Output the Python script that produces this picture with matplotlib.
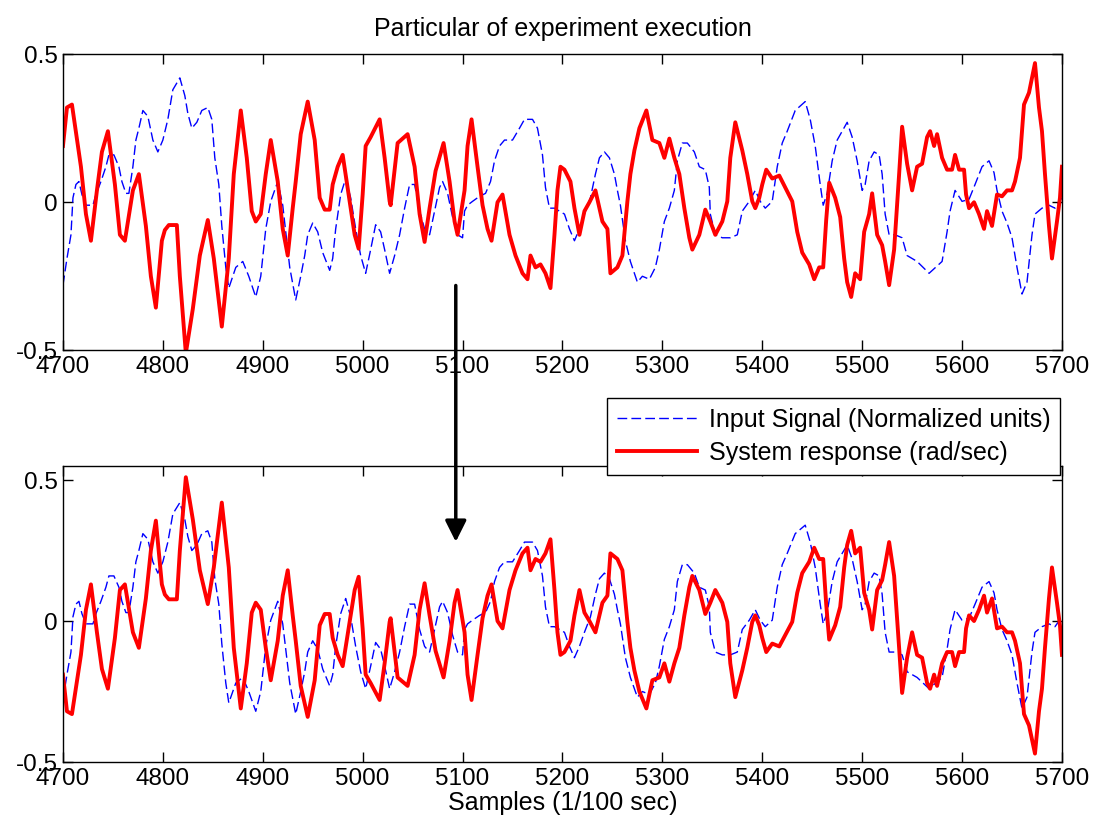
import numpy as np
import matplotlib
matplotlib.use("Agg")
import matplotlib.pyplot as plt

plt.rcParams['font.family'] = ['Liberation Sans', 'DejaVu Sans']

# system response (top panel)
resp_x = [4700, 4704, 4709, 4718, 4723, 4728, 4734, 4739, 4745, 4752, 4757, 4762, 4770, 4776,
          4783, 4788, 4793, 4799, 4802, 4806, 4814, 4817, 4823, 4830, 4837, 4845, 4851, 4859,
          4866, 4871, 4878, 4884, 4889, 4893, 4898, 4903, 4908, 4915, 4920, 4925, 4930, 4933,
          4938, 4945, 4952, 4957, 4962, 4967, 4970, 4975, 4980, 4987, 4992, 4996, 5000, 5003,
          5008, 5017, 5022, 5027, 5028, 5035, 5045, 5052, 5057, 5062, 5067, 5073, 5081, 5087,
          5092, 5095, 5102, 5105, 5109, 5115, 5120, 5125, 5129, 5135, 5140, 5147, 5153, 5160,
          5165, 5168, 5173, 5178, 5183, 5188, 5192, 5195, 5198, 5202, 5208, 5212, 5217, 5222,
          5227, 5233, 5240, 5245, 5248, 5255, 5260, 5265, 5268, 5272, 5277, 5284, 5290, 5297,
          5302, 5307, 5312, 5317, 5322, 5327, 5330, 5337, 5343, 5348, 5353, 5360, 5365, 5368,
          5373, 5380, 5385, 5390, 5393, 5397, 5400, 5404, 5410, 5417, 5423, 5430, 5435, 5440,
          5447, 5452, 5457, 5461, 5464, 5467, 5473, 5478, 5482, 5485, 5489, 5493, 5498, 5502,
          5507, 5510, 5515, 5520, 5523, 5527, 5532, 5537, 5540, 5545, 5550, 5555, 5560, 5565,
          5568, 5572, 5575, 5580, 5585, 5590, 5593, 5597, 5602, 5604, 5607, 5612, 5617, 5622,
          5625, 5630, 5635, 5640, 5645, 5650, 5653, 5658, 5662, 5667, 5673, 5677, 5680, 5683,
          5687, 5690, 5695, 5698, 5700]
resp_y = [0.19, 0.32, 0.33, 0.12, -0.04, -0.13, 0.04, 0.17, 0.24, 0.06, -0.11, -0.13, 0.04, 0.095,
          -0.08, -0.25, -0.356, -0.13, -0.094, -0.077, -0.077, -0.25, -0.51, -0.36, -0.18, -0.06, -0.19, -0.42,
          -0.19, 0.095, 0.31, 0.15, -0.03, -0.065, -0.04, 0.095, 0.21, 0.07, -0.09, -0.18, -0.02, 0.07,
          0.23, 0.34, 0.21, 0.015, -0.025, -0.025, 0.06, 0.12, 0.16, 0.003, -0.11, -0.157, 0.026, 0.19,
          0.22, 0.28, 0.15, 0.003, -0.01, 0.2, 0.23, 0.12, -0.04, -0.134, -0.02, 0.106, 0.2, 0.07,
          -0.065, -0.11, 0.04, 0.19, 0.28, 0.12, -0.01, -0.09, -0.13, 0.0, 0.026, -0.11, -0.18, -0.24,
          -0.26, -0.18, -0.22, -0.21, -0.24, -0.29, -0.11, 0.04, 0.12, 0.11, 0.07, -0.02, -0.11, -0.03,
          0.0, 0.04, -0.065, -0.09, -0.24, -0.22, -0.18, 0.003, 0.095, 0.175, 0.25, 0.31, 0.21, 0.2,
          0.15, 0.215, 0.15, 0.095, -0.02, -0.12, -0.16, -0.11, -0.025, -0.065, -0.11, -0.065, 0.003, 0.15,
          0.27, 0.175, 0.095, 0.003, -0.02, 0.015, 0.06, 0.11, 0.08, 0.09, 0.05, 0.003, -0.1, -0.17,
          -0.21, -0.26, -0.22, -0.22, -0.06, 0.066, 0.015, -0.05, -0.19, -0.27, -0.32, -0.24, -0.26, -0.1,
          -0.04, 0.03, -0.11, -0.145, -0.2, -0.28, -0.16, 0.095, 0.255, 0.13, 0.04, 0.12, 0.13, 0.22,
          0.24, 0.19, 0.23, 0.15, 0.11, 0.11, 0.16, 0.11, 0.11, 0.026, -0.02, 0.0, -0.04, -0.09,
          -0.03, -0.08, 0.026, 0.02, 0.04, 0.04, 0.07, 0.15, 0.33, 0.37, 0.47, 0.32, 0.24, 0.095,
          -0.08, -0.19, -0.065, 0.015, 0.12]

# input signal
inp_x = [4700, 4704, 4708, 4710, 4713, 4716, 4719, 4723, 4730, 4733, 4738, 4743, 4746, 4751,
         4756, 4759, 4763, 4766, 4770, 4773, 4776, 4780, 4785, 4790, 4795, 4800, 4805, 4810,
         4817, 4822, 4825, 4829, 4834, 4839, 4845, 4849, 4852, 4856, 4859, 4863, 4866, 4873,
         4880, 4886, 4893, 4898, 4903, 4908, 4915, 4920, 4927, 4933, 4938, 4942, 4945, 4950,
         4955, 4960, 4967, 4970, 4973, 4978, 4983, 4988, 4993, 4998, 5003, 5008, 5013, 5018,
         5022, 5027, 5032, 5037, 5042, 5047, 5052, 5057, 5062, 5067, 5072, 5077, 5080, 5085,
         5090, 5095, 5100, 5102, 5105, 5110, 5117, 5123, 5128, 5132, 5137, 5142, 5150, 5157,
         5162, 5170, 5175, 5180, 5183, 5187, 5192, 5202, 5207, 5212, 5217, 5222, 5228, 5233,
         5237, 5242, 5247, 5252, 5255, 5258, 5263, 5268, 5275, 5280, 5287, 5293, 5297, 5302,
         5307, 5312, 5315, 5320, 5325, 5332, 5337, 5343, 5347, 5348, 5353, 5360, 5368, 5375,
         5380, 5387, 5393, 5398, 5403, 5410, 5415, 5420, 5425, 5433, 5443, 5448, 5453, 5458,
         5461, 5465, 5470, 5475, 5480, 5485, 5490, 5495, 5500, 5503, 5507, 5512, 5517, 5520,
         5523, 5527, 5533, 5540, 5545, 5555, 5567, 5580, 5585, 5588, 5593, 5600, 5607, 5613,
         5620, 5627, 5632, 5635, 5640, 5645, 5650, 5655, 5660, 5665, 5670, 5673, 5680, 5687,
         5693, 5700]
inp_y = [-0.28, -0.19, -0.11, 0.015, 0.06, 0.07, 0.026, -0.01, -0.01, 0.026, 0.07, 0.12, 0.16, 0.16,
         0.12, 0.07, 0.03, 0.03, 0.12, 0.21, 0.25, 0.31, 0.29, 0.21, 0.17, 0.21, 0.28, 0.38,
         0.42, 0.36, 0.3, 0.25, 0.27, 0.31, 0.32, 0.28, 0.15, 0.06, -0.08, -0.22, -0.29, -0.22,
         -0.2, -0.25, -0.32, -0.25, -0.09, 0.003, 0.07, -0.01, -0.22, -0.33, -0.25, -0.18, -0.11, -0.07,
         -0.1, -0.17, -0.23, -0.19, -0.09, 0.026, 0.08, 0.015, -0.09, -0.18, -0.24, -0.16, -0.076, -0.1,
         -0.16, -0.24, -0.18, -0.11, -0.02, 0.06, 0.06, -0.03, -0.09, -0.11, -0.03, 0.05, 0.07, 0.03,
         -0.05, -0.11, -0.12, -0.03, -0.01, 0.003, 0.02, 0.03, 0.07, 0.14, 0.19, 0.21, 0.21, 0.25,
         0.28, 0.28, 0.25, 0.16, 0.05, -0.02, -0.02, -0.04, -0.09, -0.13, -0.09, -0.04, 0.015, 0.095,
         0.15, 0.17, 0.15, 0.095, 0.04, -0.01, -0.13, -0.2, -0.27, -0.25, -0.26, -0.22, -0.16, -0.065,
         -0.02, 0.04, 0.14, 0.2, 0.2, 0.17, 0.12, 0.11, 0.05, -0.04, -0.11, -0.12, -0.12, -0.11,
         -0.03, 0.003, 0.04, 0.003, -0.02, 0.003, 0.12, 0.2, 0.24, 0.31, 0.34, 0.28, 0.19, 0.06,
         -0.01, 0.03, 0.14, 0.21, 0.24, 0.27, 0.22, 0.14, 0.04, 0.06, 0.14, 0.17, 0.16, 0.095,
         -0.04, -0.11, -0.11, -0.12, -0.18, -0.2, -0.24, -0.2, -0.1, -0.03, 0.04, 0.003, 0.01, 0.06,
         0.12, 0.14, 0.1, 0.04, -0.03, -0.07, -0.12, -0.22, -0.31, -0.27, -0.11, -0.04, -0.02, -0.01,
         -0.02, 0.015]

xticks = [4700, 4800, 4900, 5000, 5100, 5200, 5300, 5400, 5500, 5600, 5700]
yticks = [-0.5, 0, 0.5]
ytick_labels = ["-0.5", "0", "0.5"]

fig = plt.figure(figsize=(10.93, 8.34), dpi=100)
ax1 = fig.add_axes([0.0576, 0.580, 0.914, 0.355])
ax2 = fig.add_axes([0.0576, 0.0863, 0.914, 0.355])

inv_resp = [-v for v in resp_y]

for ax, ry in ((ax1, resp_y), (ax2, inv_resp)):
    ax.plot(inp_x, inp_y, color='#0000ff', lw=1.0, dashes=(7, 3),
            label='Input Signal (Normalized units)')
    ax.plot(resp_x, ry, color='#ff0000', lw=2.8, label='System response (rad/sec)')
    ax.set_xlim(4700, 5700)
    ax.set_xticks(xticks)
    ax.set_yticks(yticks)
    ax.set_yticklabels(ytick_labels)
    ax.tick_params(direction='in', length=7, width=1, top=True, right=True,
                   labelsize=17.5, pad=4, colors='black')
    for s in ax.spines.values():
        s.set_linewidth(1.0)

ax1.set_ylim(-0.5, 0.5)
ax2.set_ylim(-0.5, 0.55)
ax1.set_title('Particular of experiment execution', fontsize=18, pad=13)
ax2.set_xlabel('Samples (1/100 sec)', fontsize=18, labelpad=1)

h, l = ax1.get_legend_handles_labels()
leg = fig.legend(h, l, loc='upper right', bbox_to_anchor=(0.970, 0.523),
                 fontsize=18, fancybox=False, edgecolor='black', framealpha=1,
                 handlelength=3.2, handletextpad=0.45, borderpad=0.4, labelspacing=0.35,
                 borderaxespad=0.0)
leg.get_frame().set_linewidth(1.0)

fig.add_artist(matplotlib.patches.FancyArrowPatch(
    (0.417, 0.661), (0.417, 0.347), transform=fig.transFigure,
    arrowstyle='-|>', mutation_scale=32, lw=2.5, color='black', zorder=10))

fig.savefig('out.png', dpi=100, facecolor='white')
